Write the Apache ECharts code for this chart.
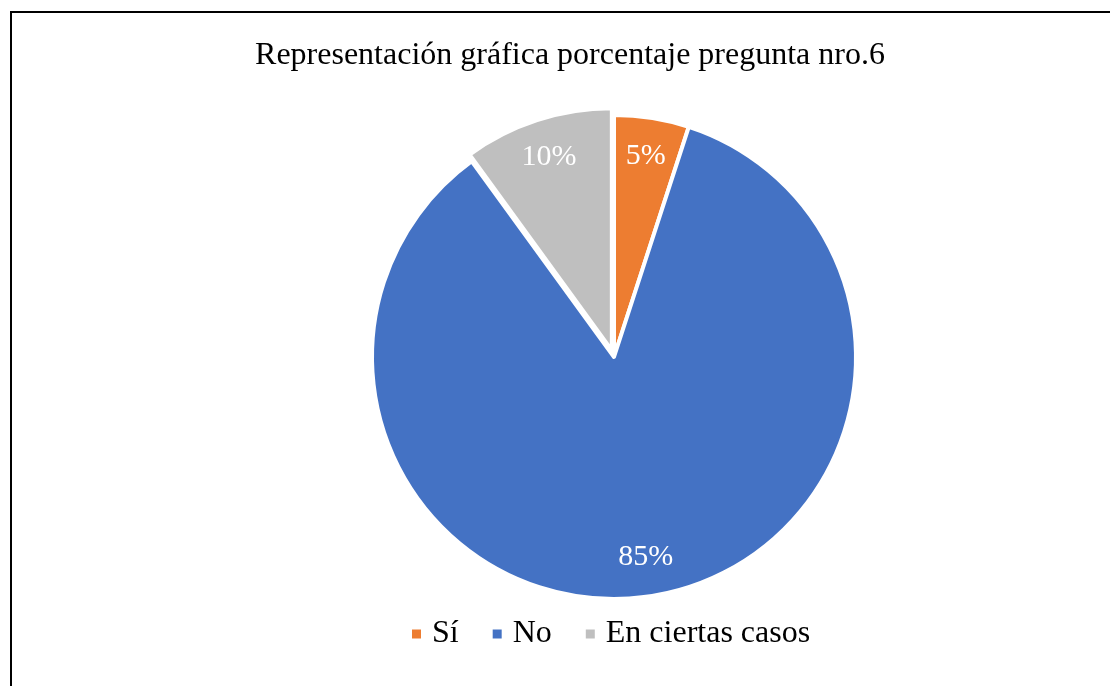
<!DOCTYPE html>
<html>
<head>
<meta charset="utf-8">
<script src="https://cdn.jsdelivr.net/npm/echarts@6/dist/echarts.min.js"></script>
<style>
  html, body { margin: 0; padding: 0; background: #fff; }
  #chart { width: 1110px; height: 686px; }
</style>
</head>
<body>
<div id="chart"></div>
<script>
// respuestas de la pregunta 6
const categories = ['Sí', 'No', 'En ciertas casos']
const values = [5, 85, 10]
const colors = ['#ED7D31', '#4472C4', '#BFBFBF']
const exploded = [false, false, true]

const font = "'Liberation Serif', 'Times New Roman', serif"
const myChart = echarts.init(document.getElementById('chart'))

const pieData = categories.map((name, i) => ({
  name: name,
  value: values[i],
  selected: exploded[i],
  itemStyle: { color: colors[i] }
}))

const labelData = categories.map((name, i) => ({
  name: name,
  value: values[i],
  selected: exploded[i]
}))

let option = {
  animation: false,
  title: {
    text: 'Representación gráfica porcentaje pregunta nro.6',
    left: 565,
    textAlign: 'center',
    top: 35,
    textStyle: {
      fontFamily: font,
      fontWeight: 'normal',
      fontSize: 32,
      color: '#000'
    }
  },
  legend: {
    data: categories,
    top: 613,
    left: 405,
    icon: 'rect',
    itemWidth: 11,
    itemHeight: 11,
    itemGap: 32,
    textStyle: {
      fontFamily: font,
      fontSize: 32,
      color: '#000',
      padding: [0, 0, 0, 5]
    }
  },
  graphic: [{
    type: 'rect',
    shape: { x: 11, y: 12, width: 1300, height: 900 },
    style: { fill: 'none', stroke: '#000', lineWidth: 2 },
    silent: true
  }],
  series: [
    {
      type: 'pie',
      center: [614, 357],
      radius: 242,
      startAngle: 90,
      selectedMode: 'multiple',
      selectedOffset: 7,
      label: { show: false },
      labelLine: { show: false },
      itemStyle: { borderColor: '#fff', borderWidth: 4 },
      emphasis: { disabled: true },
      data: pieData
    },
    {
      type: 'pie',
      center: [614, 357],
      radius: [158, 242],
      startAngle: 90,
      selectedMode: 'multiple',
      selectedOffset: 7,
      silent: true,
      itemStyle: { color: 'rgba(0,0,0,0)' },
      label: {
        show: true,
        position: 'inside',
        formatter: '{c}%',
        fontFamily: font,
        fontSize: 30,
        color: '#fff'
      },
      labelLine: { show: false },
      emphasis: { disabled: true },
      data: labelData
    }
  ]
}
myChart.setOption(option, true)
</script>
</body>
</html>
